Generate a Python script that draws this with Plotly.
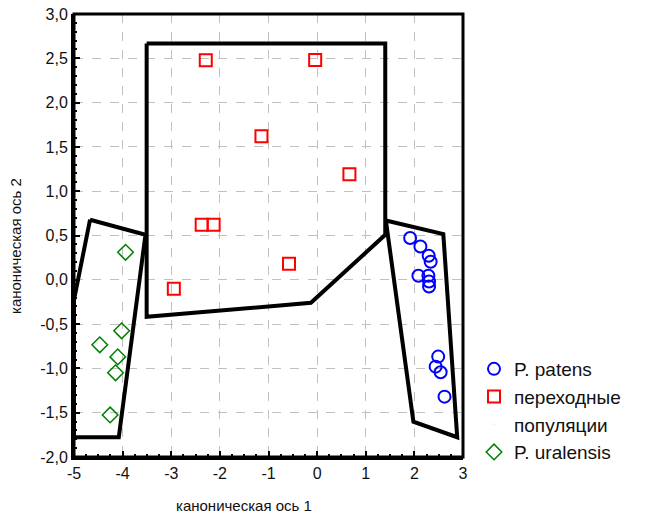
import plotly.graph_objects as go

# --- data ---
patens_x = [1.913, 2.124, 2.294, 2.335, 2.083, 2.288, 2.302, 2.302, 2.49, 2.437, 2.54, 2.62]
patens_y = [0.471, 0.376, 0.271, 0.203, 0.045, 0.045, -0.019, -0.076, -0.867, -0.98, -1.043, -1.319]

trans_x = [-2.29, -0.04, -1.145, 0.664, -2.374, -2.128, -0.578, -2.947]
trans_y = [2.478, 2.48, 1.62, 1.19, 0.62, 0.62, 0.18, -0.10]

ural_x = [-3.94, -4.02, -4.47, -4.10, -4.146, -4.257]
ural_y = [0.31, -0.576, -0.734, -0.87, -1.05, -1.525]

# hull polygons
hull_trans_x = [-3.506, 1.401, 1.401, -0.128, -3.506, -3.506]
hull_trans_y = [2.667, 2.667, 0.508, -0.26, -0.418, 2.667]

hull_patens_x = [1.414, 2.595, 2.881, 1.98, 1.414]
hull_patens_y = [0.67, 0.516, -1.777, -1.601, 0.67]

hull_ural_x = [-4.67, -3.53, -4.079, -5.0, -5.0, -4.67]
hull_ural_y = [0.678, 0.508, -1.777, -1.777, -0.226, 0.678]

x_ticks = [-5, -4, -3, -2, -1, 0, 1, 2, 3]
y_ticks = [-2.0, -1.5, -1.0, -0.5, 0.0, 0.5, 1.0, 1.5, 2.0, 2.5, 3.0]
y_tick_labels = ["-2,0", "-1,5", "-1,0", "-0,5", "0,0", "0,5", "1,0", "1,5", "2,0", "2,5", "3,0"]
X_RANGE = [-5, 3]
Y_RANGE = [-2, 3]

FONT = "Liberation Sans, Arial, sans-serif"
TXT = "#111111"

fig = go.Figure()

for hx, hy in [(hull_trans_x, hull_trans_y), (hull_patens_x, hull_patens_y), (hull_ural_x, hull_ural_y)]:
    fig.add_trace(go.Scatter(x=hx, y=hy, mode="lines", line=dict(color="black", width=4),
                             showlegend=False, hoverinfo="skip"))

fig.add_trace(go.Scatter(x=patens_x, y=patens_y, mode="markers", name="P. patens",
                         marker=dict(symbol="circle-open", size=12, color="#0000ff",
                                     line=dict(width=2, color="#0000ff"))))
fig.add_trace(go.Scatter(x=trans_x, y=trans_y, mode="markers", name="переходные",
                         marker=dict(symbol="square-open", size=12, color="#ff0000",
                                     line=dict(width=2, color="#ff0000"))))
# second line of the legend label for the transitional populations
fig.add_trace(go.Scatter(x=[None], y=[None], mode="markers", name="популяции",
                         marker=dict(size=1, opacity=0), hoverinfo="skip"))
fig.add_trace(go.Scatter(x=ural_x, y=ural_y, mode="markers", name="P. uralensis",
                         marker=dict(symbol="diamond-open", size=12, color="#008000",
                                     line=dict(width=1.5, color="#008000"))))

tick_common = dict(ticks="inside", ticklen=6, tickwidth=2, tickcolor="black", zeroline=False)
axis_common = dict(
    showline=True, linecolor="black", linewidth=3,
    showgrid=True, gridcolor="#c0c0c0", griddash="dash", gridwidth=1,
    tickfont=dict(family=FONT, size=16, color=TXT),
    ticklabeloverflow="allow", **tick_common,
)
xminor = dict(ticks="inside", dtick=0.25, ticklen=3, tickwidth=1.5, tickcolor="black")
yminor = dict(ticks="inside", dtick=0.1, ticklen=3, tickwidth=1.5, tickcolor="black")

fig.update_layout(
    xaxis=dict(range=X_RANGE, tickvals=x_ticks, ticktext=[str(v) for v in x_ticks],
               minor=xminor, **axis_common),
    yaxis=dict(range=Y_RANGE, tickvals=y_ticks, ticktext=y_tick_labels,
               minor=yminor, **axis_common),
    # tick-only mirror axes on top and right
    xaxis2=dict(overlaying="x", side="top", anchor="y", range=X_RANGE, tickvals=x_ticks,
                showticklabels=False, showgrid=False, showline=False, minor=xminor, **tick_common),
    yaxis2=dict(overlaying="y", side="right", anchor="x", range=Y_RANGE, tickvals=y_ticks,
                showticklabels=False, showgrid=False, showline=False, minor=yminor, **tick_common),
)

# frame around the plot area
fig.add_shape(type="rect", xref="paper", yref="paper", x0=0, x1=1, y0=0, y1=1,
              line=dict(color="black", width=3), layer="above")

# page body margin is removed by post_script, so figure px == page px
W, H = 650, 517
L, R, T, B = 74, 187, 14, 60
pw, ph = W - L - R, H - T - B

fig.add_annotation(text="каноническая ось 1", x=244, y=506, xref="paper", yref="paper",
                   xanchor="center", yanchor="middle",
                   showarrow=False, font=dict(family=FONT, size=15, color=TXT))
fig.add_annotation(text="каноническая ось 2", x=15, y=246, xref="paper", yref="paper",
                   xanchor="center", yanchor="middle",
                   showarrow=False, textangle=-90, font=dict(family=FONT, size=15, color=TXT))

fig.update_layout(
    width=W, height=H,
    margin=dict(l=L, r=R, t=T, b=B, autoexpand=False),
    plot_bgcolor="white", paper_bgcolor="white",
    font=dict(family=FONT, color=TXT),
    legend=dict(x=(474 - L) / pw, y=(H - B - 350) / ph, xanchor="left", yanchor="top",
                font=dict(family=FONT, size=19, color=TXT),
                bgcolor="rgba(0,0,0,0)", itemwidth=30),
)

for ann in fig.layout.annotations:
    px, py = ann.x, ann.y
    ann.x = (px - L) / pw
    ann.y = (H - B - py) / ph

fig.write_html("out.html", config={"displayModeBar": False},
               post_script="document.body.style.margin='0';document.body.style.overflow='hidden';")
